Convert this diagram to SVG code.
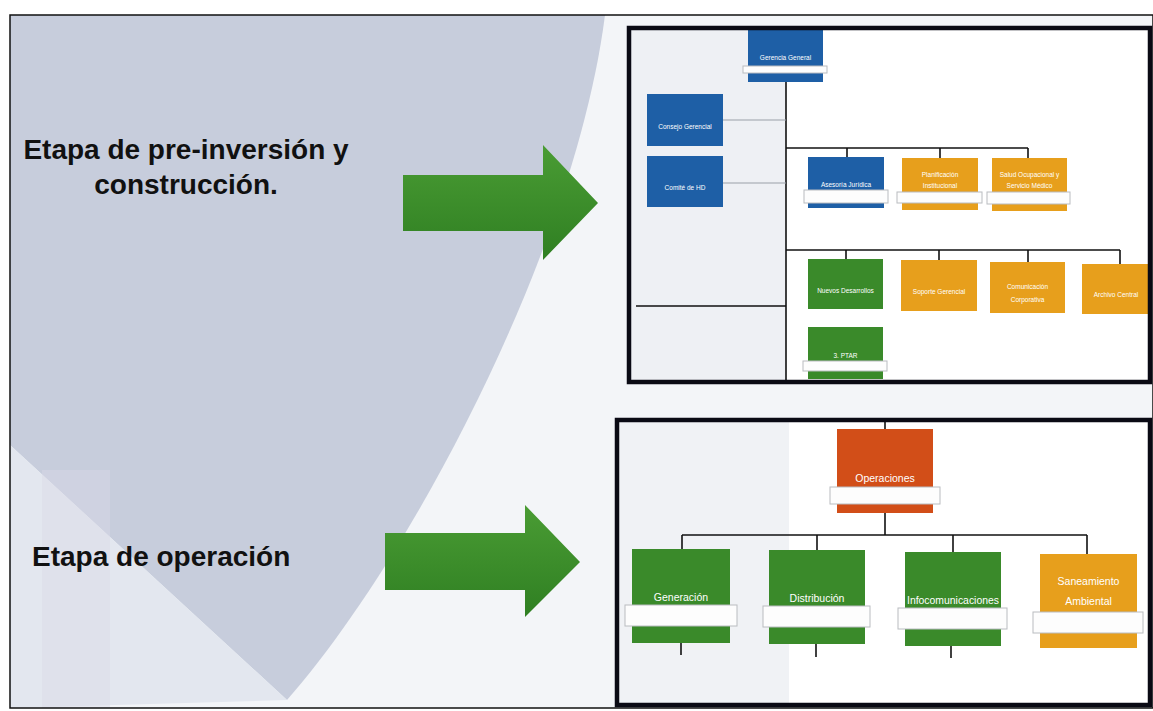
<svg xmlns="http://www.w3.org/2000/svg" width="1153" height="711" viewBox="0 0 1153 711">
<defs>
<style>
.big{font-family:"Liberation Sans",Arial,sans-serif;font-weight:bold;font-size:28px;fill:#111}
.sm{font-family:"Liberation Sans",Arial,sans-serif;font-size:6.5px;fill:#fff;text-anchor:middle}
.md{font-family:"Liberation Sans",Arial,sans-serif;font-size:10.5px;fill:#fff;text-anchor:middle}
.blue{fill:#1e5fa6}
.orange{fill:#e79f1c}
.green{fill:#3a8a2a}
.red{fill:#d24e18}
.strip{fill:#fdfdfd;stroke:#b9bcc0;stroke-width:1}
.ln{stroke:#111;stroke-width:1.6;fill:none}
.gl{stroke:#9aa0a8;stroke-width:1;fill:none}
.frame{fill:none;stroke:#0a0a14;stroke-width:4.5}
</style>
<linearGradient id="ag" x1="0" y1="0" x2="0" y2="1">
<stop offset="0" stop-color="#4a9c34"/>
<stop offset="1" stop-color="#2f7f22"/>
</linearGradient>
</defs>
<rect x="0" y="0" width="1153" height="711" fill="#ffffff"/>
<g id="background">
<rect x="10" y="15" width="1143" height="693" fill="#f3f5f8"/>
<path d="M10 15 L605 15 C575 250 410 560 287 700 L10 445 Z" fill="#c7cddc"/>
<path d="M10 445 L287 700 L10 708 Z" fill="#e3e7ef"/>
<rect x="42" y="470" width="68" height="238" fill="#d9dae6" opacity="0.45"/>
<rect x="10" y="15" width="1143" height="693" fill="none" stroke="#111" stroke-width="1.5"/>
</g>
<g id="label-preinversion">
<text class="big" x="186" y="159" text-anchor="middle">Etapa de pre-inversión y</text>
<text class="big" x="186" y="194" text-anchor="middle">construcción.</text>
</g>
<g id="label-operacion">
<text class="big" x="32" y="566">Etapa de operación</text>
</g>
<g id="arrow-1">
<path d="M403 175 L543 175 L543 145 L598 203 L543 260 L543 231 L403 231 Z" fill="url(#ag)"/>
</g>
<g id="arrow-2">
<path d="M385 533 L525 533 L525 505 L580 562 L525 617 L525 590 L385 590 Z" fill="url(#ag)"/>
</g>
<g id="chart-top">
<rect x="629" y="28" width="521" height="354" fill="#ffffff"/>
<rect x="631" y="30" width="155" height="350" fill="#eef0f4"/>
<g id="connectors-top">
<line class="ln" x1="786" y1="82" x2="786" y2="381"/>
<line class="gl" x1="723" y1="120" x2="786" y2="120"/>
<line class="gl" x1="723" y1="183" x2="786" y2="183"/>
<line class="ln" x1="786" y1="148" x2="1028" y2="148"/>
<line class="ln" x1="847" y1="148" x2="847" y2="157"/>
<line class="ln" x1="940" y1="148" x2="940" y2="158"/>
<line class="ln" x1="1028" y1="148" x2="1028" y2="158"/>
<line class="ln" x1="786" y1="250" x2="1120" y2="250"/>
<line class="ln" x1="846" y1="250" x2="846" y2="259"/>
<line class="ln" x1="939" y1="250" x2="939" y2="260"/>
<line class="ln" x1="1028" y1="250" x2="1028" y2="262"/>
<line class="ln" x1="1120" y1="250" x2="1120" y2="264"/>
<line class="ln" x1="636" y1="306" x2="786" y2="306"/>
</g>
<g id="gerencia-general">
<rect class="blue" x="748" y="30" width="75" height="52"/>
<rect class="strip" x="743" y="66" width="84" height="7"/>
<text class="sm" x="785.5" y="60">Gerencia General</text>
</g>
<g id="consejo-gerencial">
<rect class="blue" x="647" y="94" width="76" height="52"/>
<text class="sm" x="685" y="129">Consejo Gerencial</text>
</g>
<g id="comite-hd">
<rect class="blue" x="647" y="156" width="76" height="51"/>
<text class="sm" x="685" y="190">Comité de HD</text>
</g>
<g id="asesoria-juridica">
<rect class="blue" x="808" y="157" width="76" height="51"/>
<rect class="strip" x="804" y="190" width="84" height="13"/>
<text class="sm" x="846" y="187">Asesoría Jurídica</text>
</g>
<g id="planificacion-institucional">
<rect class="orange" x="902" y="158" width="76" height="52"/>
<rect class="strip" x="897" y="192" width="85" height="11"/>
<text class="sm" x="940" y="177">Planificación</text>
<text class="sm" x="940" y="188">Institucional</text>
</g>
<g id="salud-ocupacional">
<rect class="orange" x="992" y="158" width="75" height="53"/>
<rect class="strip" x="987" y="192" width="83" height="12"/>
<text class="sm" x="1029.5" y="177">Salud Ocupacional y</text>
<text class="sm" x="1029.5" y="188">Servicio Médico</text>
</g>
<g id="nuevos-desarrollos">
<rect class="green" x="808" y="259" width="75" height="50"/>
<text class="sm" x="845.5" y="293">Nuevos Desarrollos</text>
</g>
<g id="soporte-gerencial">
<rect class="orange" x="901" y="260" width="76" height="51"/>
<text class="sm" x="939" y="294">Soporte Gerencial</text>
</g>
<g id="comunicacion-corporativa">
<rect class="orange" x="990" y="262" width="75" height="51"/>
<text class="sm" x="1027.5" y="289">Comunicación</text>
<text class="sm" x="1027.5" y="302">Corporativa</text>
</g>
<g id="archivo-central">
<rect class="orange" x="1082" y="264" width="68" height="50"/>
<text class="sm" x="1116" y="297">Archivo Central</text>
</g>
<g id="ptar">
<rect class="green" x="808" y="327" width="75" height="52"/>
<rect class="strip" x="803" y="361" width="84" height="10"/>
<text class="sm" x="845.5" y="358">3. PTAR</text>
</g>
<rect class="frame" x="629" y="28" width="521" height="354"/>
</g>
<g id="chart-bottom">
<rect x="617" y="420" width="533" height="285" fill="#ffffff"/>
<rect x="619" y="422" width="170" height="281" fill="#f0f2f5"/>
<g id="connectors-bottom">
<line class="ln" x1="885" y1="420" x2="885" y2="429"/>
<line class="ln" x1="885" y1="513" x2="885" y2="535"/>
<line class="ln" x1="682" y1="535" x2="1087" y2="535"/>
<line class="ln" x1="682" y1="535" x2="682" y2="549"/>
<line class="ln" x1="817" y1="535" x2="817" y2="550"/>
<line class="ln" x1="953" y1="535" x2="953" y2="552"/>
<line class="ln" x1="1087" y1="535" x2="1087" y2="554"/>
<line class="ln" x1="681" y1="643" x2="681" y2="655"/>
<line class="ln" x1="816" y1="644" x2="816" y2="657"/>
<line class="ln" x1="951" y1="646" x2="951" y2="658"/>
</g>
<g id="operaciones">
<rect class="red" x="837" y="429" width="96" height="84"/>
<rect class="strip" x="830" y="487" width="110" height="17"/>
<text class="md" x="885" y="482">Operaciones</text>
</g>
<g id="generacion">
<rect class="green" x="632" y="549" width="98" height="94"/>
<rect class="strip" x="625" y="605" width="112" height="21"/>
<text class="md" x="681" y="601">Generación</text>
</g>
<g id="distribucion">
<rect class="green" x="769" y="550" width="96" height="94"/>
<rect class="strip" x="763" y="606" width="107" height="21"/>
<text class="md" x="817" y="602">Distribución</text>
</g>
<g id="infocomunicaciones">
<rect class="green" x="905" y="552" width="96" height="94"/>
<rect class="strip" x="898" y="608" width="109" height="21"/>
<text class="md" x="953" y="604" textLength="92" lengthAdjust="spacingAndGlyphs">Infocomunicaciones</text>
</g>
<g id="saneamiento-ambiental">
<rect class="orange" x="1040" y="554" width="97" height="94"/>
<rect class="strip" x="1033" y="612" width="110" height="21"/>
<text class="md" x="1088.5" y="585">Saneamiento</text>
<text class="md" x="1088.5" y="605">Ambiental</text>
</g>
<rect class="frame" x="617" y="420" width="533" height="285"/>
</g>
</svg>
